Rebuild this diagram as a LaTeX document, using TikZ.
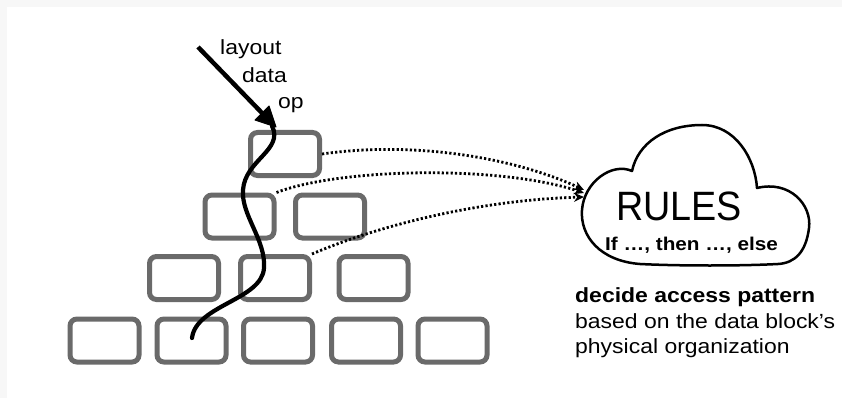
\documentclass[tikz,border=0pt]{standalone}
\usepackage{fontspec}
\usetikzlibrary{arrows.meta}
\newfontfamily\labfont[FakeStretch=1.12]{Liberation Sans}
\newfontfamily\rulesfont[FakeStretch=0.92]{Liberation Sans}
\definecolor{blkgray}{HTML}{6A6A6A}
\definecolor{bggray}{HTML}{F7F7F7}
\tikzset{
  blk/.style={draw=blkgray, line width=5pt, rounded corners=7pt, rectangle,
    minimum width=69pt, minimum height=43pt, inner sep=0pt},
  dotarrow/.style={line width=2.8pt, dash pattern=on 2.2pt off 2.2pt,
    -{Stealth[length=10pt,width=9pt]}},
  txt/.style={anchor=base west, inner sep=0pt, font=\labfont\fontsize{20.5}{24}\selectfont}
}
\begin{document}
\begin{tikzpicture}[x=1pt,y=-1pt]
\useasboundingbox (0,0) rectangle (842,398);
\fill[bggray] (0,0) rectangle (842,398);
\fill[white] (7,7) rectangle (842,398);

% blocks
\node[blk] (b11) at (285,154) {};
\node[blk] (b21) at (239.5,216.5) {};
\node[blk] (b22) at (330,216.5) {};
\node[blk] (b31) at (184,278) {};
\node[blk] (b32) at (275,278) {};
\node[blk] (b33) at (373.5,278) {};
\node[blk] (b41) at (104.5,340.5) {};
\node[blk] (b42) at (191.5,340.5) {};
\node[blk] (b43) at (278,340.5) {};
\node[blk] (b44) at (366,340.5) {};
\node[blk] (b45) at (452.5,340.5) {};

% cloud
\coordinate (cA) at (632,171);
\coordinate (c1) at (584,190);
\coordinate (c2) at (584,193);
\coordinate (c3) at (584,197);
\draw[line width=2.5pt, line join=round]
  (cA) .. controls (638,143) and (665,125) .. (702,125)
       .. controls (735,125) and (755,158) .. (757,188)
       .. controls (790,180) and (812,205) .. (809,228)
       .. controls (806,252) and (795,263) .. (778,264)
       .. controls (740,266) and (680,266) .. (640,264)
       .. controls (600,261) and (580,236) .. (582,210)
       .. controls (584,182) and (612,162) .. (cA) -- cycle;

\node[anchor=base west, inner sep=0pt, font=\rulesfont\fontsize{41}{41}\selectfont] (rules) at (616,220) {RULES};
\node[anchor=base west, inner sep=0pt, font=\labfont\bfseries\fontsize{18.5}{22}\selectfont] (ifte) at (605,250) {If …, then …, else};

\node[txt, font=\labfont\bfseries\fontsize{20.5}{24}\selectfont] (t1) at (575,302) {decide access pattern};
\node[txt] (t2) at (575,328) {based on the data block’s};
\node[txt] (t3) at (575,353) {physical organization};

% labels of op
\node[txt] (lay) at (220,55) {layout};
\node[txt] (dat) at (242,83) {data};
\node[txt] (opl) at (278,109) {op};

% op arrow (shaft + filled head)
\coordinate (ostart) at (198,47);
\coordinate (obase) at (262,113);
\coordinate (otip) at (276,127);
\coordinate (oh1) at (269,106);
\coordinate (oh2) at (255,120);
\draw[line width=4.5pt] (ostart) -- (obase);
\fill[line join=round, draw, line width=1pt] (otip) -- (oh1) -- (oh2) -- cycle;
\coordinate (wend) at (192,338);
\draw[line width=4.2pt, line cap=round]
  (272,126) .. controls (284,150) and (245,160) .. (243,190)
            .. controls (241,215) and (266,240) .. (264,268)
            .. controls (262,300) and (196,305) .. (wend);

% dotted arrows
\draw[dotarrow] (b11.east) .. controls (420,140) and (520,160) .. (c1);
\draw[dotarrow] (b21.north east) .. controls (340,168) and (500,165) .. (c2);
\draw[dotarrow] (b32.north east) .. controls (380,225) and (480,200) .. (c3);
\end{tikzpicture}
\end{document}
